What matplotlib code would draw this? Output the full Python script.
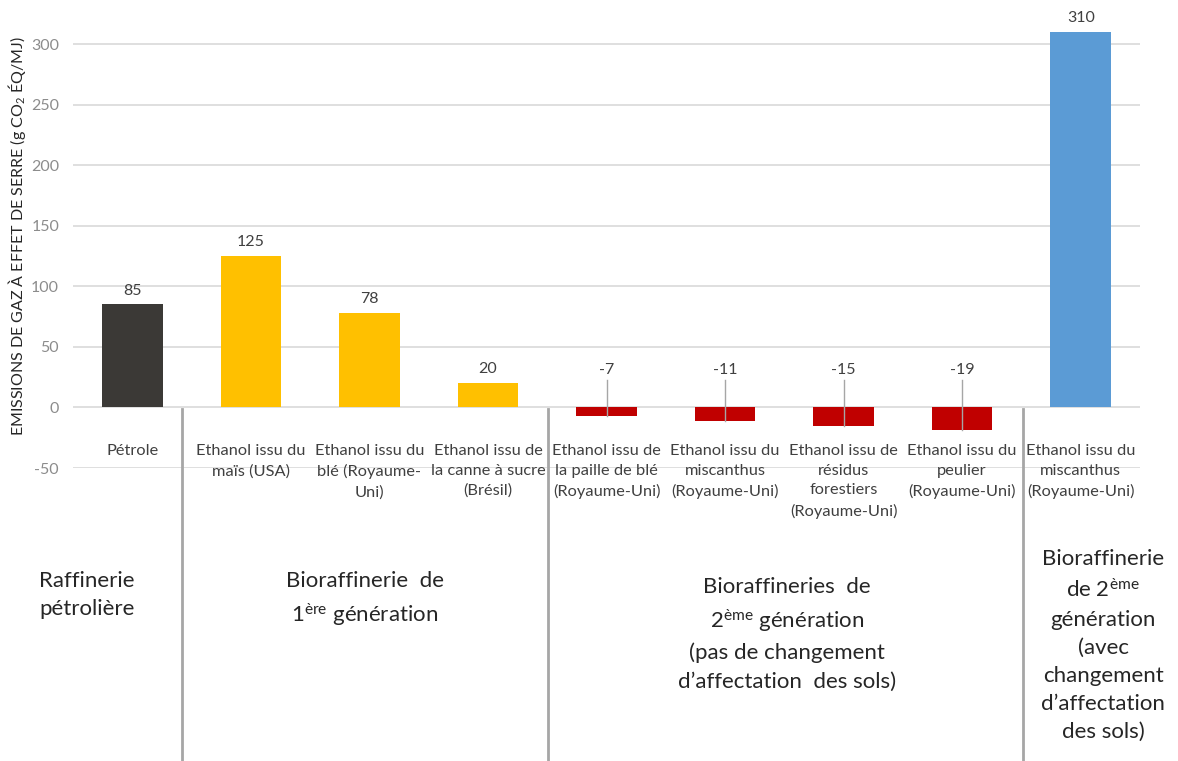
import matplotlib
matplotlib.use("Agg")
import matplotlib.pyplot as plt
from matplotlib.transforms import blended_transform_factory
from matplotlib.lines import Line2D

plt.rcParams['font.family'] = ['Lato', 'DejaVu Sans']
plt.rcParams['mathtext.fontset'] = 'custom'
plt.rcParams['mathtext.rm'] = 'Lato'
plt.rcParams['mathtext.it'] = 'Lato'
plt.rcParams['mathtext.default'] = 'regular'

# ---- data ----
categories = [
    "Pétrole",
    "Ethanol issu du\nmaïs (USA)",
    "Ethanol issu du\nblé (Royaume-\nUni)",
    "Ethanol issu de\nla canne à sucre\n(Brésil)",
    "Ethanol issu de\nla paille de blé\n(Royaume-Uni)",
    "Ethanol issu du\nmiscanthus\n(Royaume-Uni)",
    "Ethanol issu de\nrésidus\nforestiers\n(Royaume-Uni)",
    "Ethanol issu du\npeulier\n(Royaume-Uni)",
    "Ethanol issu du\nmiscanthus\n(Royaume-Uni)",
]
values = [85, 125, 78, 20, -7, -11, -15, -19, 310]
bar_colors = ["#3B3936", "#FFC000", "#FFC000", "#FFC000",
              "#C00000", "#C00000", "#C00000", "#C00000", "#5B9BD5"]
yticks = [-50, 0, 50, 100, 150, 200, 250, 300]
group_labels = [
    "Raffinerie\npétrolière",
    "Bioraffinerie  de\n1$^{ère}$ génération",
    "Bioraffineries  de\n2$^{ème}$ génération\n(pas de changement\nd’affectation  des sols)",
    "Bioraffinerie\nde 2$^{ème}$\ngénération\n(avec\nchangement\nd’affectation\ndes sols)",
]
ylabel = "EMISSIONS DE GAZ À EFFET DE SERRE (g CO$_2$ ÉQ/MJ)"

W, H = 1178, 761
fig = plt.figure(figsize=(W / 100, H / 100), dpi=100)
ax_left, ax_right = 73 / W, 1140 / W
ax_bottom = 1 - 468 / H
ax_top = 1 - 19.8 / H
ax = fig.add_axes([ax_left, ax_bottom, ax_right - ax_left, ax_top - ax_bottom])

x = list(range(len(values)))
ax.bar(x, values, width=0.51, color=bar_colors, zorder=3)
ax.set_xlim(-0.5, len(values) - 0.5)
ax.set_ylim(-50, 320)
ax.set_yticks(yticks)
ax.set_yticklabels([str(t) for t in yticks], color="#8C8C8C", fontsize=11.5)
ax.tick_params(axis='y', length=0, pad=10)
ax.set_xticks([])
for s in ax.spines.values():
    s.set_visible(False)
ax.grid(axis='y', color="#D9D9D9", linewidth=1.2, zorder=0)

# value labels
for xi, v in zip(x, values):
    if v >= 0:
        ax.annotate(str(v), (xi, v), xytext=(0, 5), textcoords="offset points",
                    ha="center", va="bottom", fontsize=11.5, color="#404040")
    else:
        ax.text(xi, 31, str(v), ha="center", va="center", fontsize=11.5, color="#404040")
        ax.plot([xi, xi], [22.5, v], color="#A6A6A6", linewidth=1, zorder=4)

# category labels (below zero)
tr = blended_transform_factory(ax.transData, fig.transFigure)
for xi, lab in zip(x, categories):
    ax.text(xi, 1 - 444 / H, lab, transform=tr, ha="center", va="top",
            fontsize=11.8, color="#404040", linespacing=1.52, clip_on=False)

# separators
for sx in [0.42, 3.51, 7.51]:
    fig.add_artist(Line2D([sx, sx], [1 - 409 / H, 0], transform=tr,
                          color="#A6A6A6", linewidth=2))

# group labels
group_pos = [(-0.38, 571), (1.96, 571), (5.52, 577), (8.19, 549)]
for (gx, gy), lab in zip(group_pos, group_labels):
    ax.text(gx, 1 - gy / H, lab, transform=tr, ha="center", va="top",
            fontsize=16, color="#262626", linespacing=1.5, clip_on=False)

fig.text(17 / W, 1 - 236 / H, ylabel, rotation=90, ha="center", va="center",
         fontsize=11.5, color="#262626")

fig.savefig("out.png", dpi=100)
